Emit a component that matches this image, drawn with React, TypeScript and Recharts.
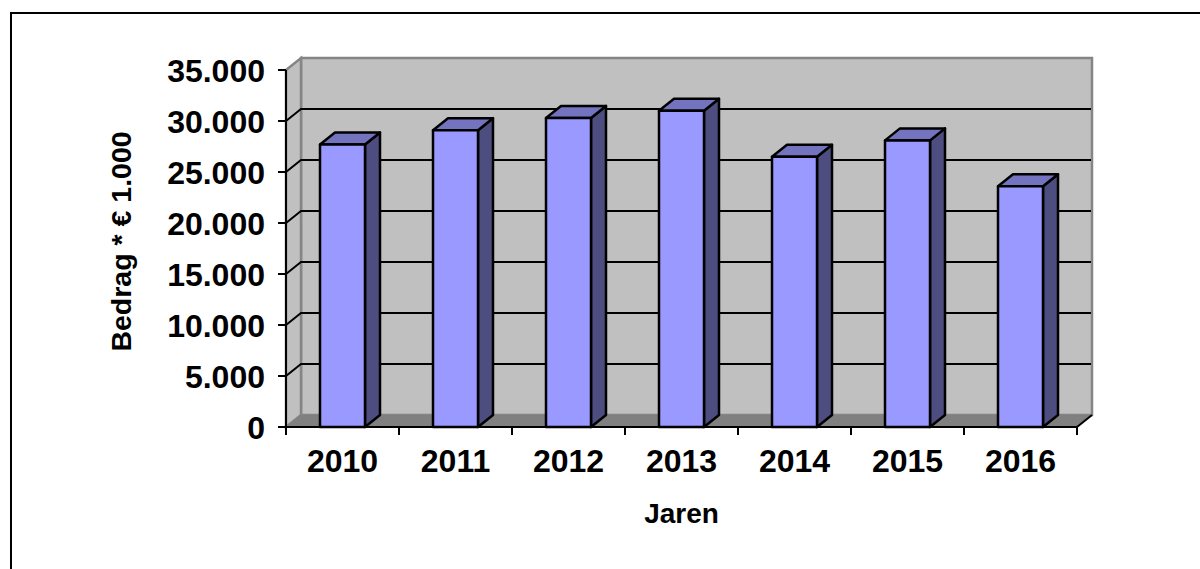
import React from 'react';
import { BarChart, Bar, XAxis, YAxis, CartesianGrid } from 'recharts';

const years = ['2010', '2011', '2012', '2013', '2014', '2015', '2016'];
const amounts = [27700, 29100, 30300, 31000, 26500, 28100, 23600];
const yTicks = [0, 5000, 10000, 15000, 20000, 25000, 30000, 35000];

const rows = years.map((year, i) => ({ year, amount: amounts[i] }));

// Plot box of the chart, and the depth of the fake 3D look
const W = 1200;
const H = 569;
const LEFT = 286;
const RIGHT = 1077;
const TOP = 70;
const BOTTOM = 427;
const DX = 15;
const DY = 12;
const BAND = (RIGHT - LEFT) / years.length;

const FONT = '"Liberation Sans", Arial, sans-serif';

const dots = (v: number) => String(v).replace(/\B(?=(\d{3})+$)/g, '.');

const pts = (list: number[][]) => list.map((p) => p.join(',')).join(' ');

// Back wall, side wall and floor, in their own svg under the chart
const Walls = () => (
  <svg width={W} height={H} style={{ position: 'absolute', left: 0, top: 0 }}>
    <polygon
      points={pts([[LEFT + DX, TOP - DY], [RIGHT + DX, TOP - DY], [RIGHT + DX, BOTTOM - DY], [LEFT + DX, BOTTOM - DY]])}
      fill="#c0c0c0"
      stroke="#858585"
      strokeWidth={2.5}
    />
    <polygon
      points={pts([[LEFT, TOP], [LEFT + DX, TOP - DY], [LEFT + DX, BOTTOM - DY], [LEFT, BOTTOM]])}
      fill="#c0c0c0"
      stroke="#858585"
      strokeWidth={2.5}
    />
    <polygon
      points={pts([[LEFT, BOTTOM], [LEFT + DX, BOTTOM - DY], [RIGHT + DX, BOTTOM - DY], [RIGHT, BOTTOM]])}
      fill="#808080"
    />
    <line x1={RIGHT} y1={BOTTOM} x2={RIGHT + DX} y2={BOTTOM - DY} stroke="#000" strokeWidth={2} />
  </svg>
);

// Gridline that runs up the side wall, then across the back wall
const GridLine = (props: any) => {
  const { x1, x2, y1, key } = props;
  if (y1 <= TOP + 1 || y1 >= BOTTOM - 1) return <g key={key} />;
  return (
    <polyline
      key={key}
      points={pts([[x1, y1], [x1 + DX, y1 - DY], [x2 + DX - 1, y1 - DY]])}
      fill="none"
      stroke="#000"
      strokeWidth={2}
    />
  );
};

// Column with a front, top and side face
const Column = (props: any) => {
  const { x, y, width, height } = props;
  const r = x + width;
  const b = y + height;
  return (
    <g stroke="#000" strokeWidth={2.5} strokeLinejoin="round">
      <polygon points={pts([[r, y], [r + DX, y - DY], [r + DX, b - DY], [r, b]])} fill="#4d4d80" />
      <polygon points={pts([[x, y], [x + DX, y - DY], [r + DX, y - DY], [r, y]])} fill="#7373bf" />
      <rect x={x} y={y} width={width} height={height} fill="#9999ff" />
    </g>
  );
};

// Year label in the middle of the band, tick marks on the band edges
const YearTick = (props: any) => {
  const { x, payload, index } = props;
  const left = x - BAND / 2;
  const right = x + BAND / 2;
  return (
    <g>
      <line x1={left} y1={BOTTOM} x2={left} y2={BOTTOM + 8} stroke="#000" strokeWidth={2} />
      {index === years.length - 1 && (
        <line x1={right} y1={BOTTOM} x2={right} y2={BOTTOM + 8} stroke="#000" strokeWidth={2} />
      )}
      <text x={x} y={BOTTOM + 45} textAnchor="middle" fontFamily={FONT} fontWeight="bold" fontSize={32} fill="#000">
        {payload.value}
      </text>
    </g>
  );
};

export default function App() {
  return (
    <div style={{ position: 'absolute', left: 0, top: 0, width: W, height: H, background: '#fff', overflow: 'hidden' }}>
      <div
        style={{
          position: 'absolute',
          left: 10,
          top: 12,
          width: W,
          height: H,
          borderLeft: '2px solid #000',
          borderTop: '2px solid #000',
        }}
      />
      <Walls />
      <BarChart
        width={W}
        height={H}
        data={rows}
        margin={{ top: TOP, right: W - RIGHT, bottom: 0, left: 0 }}
        style={{ position: 'absolute', left: 0, top: 0 }}
      >
        <CartesianGrid vertical={false} horizontal={GridLine} />
        <XAxis
          dataKey="year"
          height={H - BOTTOM}
          interval={0}
          axisLine={{ stroke: '#000', strokeWidth: 2 }}
          tickLine={false}
          tick={YearTick}
          label={{
            value: 'Jaren',
            position: 'insideBottom',
            offset: 46,
            style: { fontFamily: FONT, fontWeight: 'bold', fontSize: 28, fill: '#000' },
          }}
        />
        <YAxis
          width={LEFT}
          domain={[0, 35000]}
          ticks={yTicks}
          interval={0}
          tickFormatter={dots}
          axisLine={{ stroke: '#000', strokeWidth: 2 }}
          tickLine={{ stroke: '#000', strokeWidth: 2 }}
          tickSize={8}
          tickMargin={13}
          tick={{ fontFamily: FONT, fontWeight: 'bold', fontSize: 32, fill: '#000', dy: 1 }}
          label={{
            value: 'Bedrag * € 1.000',
            angle: -90,
            position: 'insideLeft',
            offset: 0,
            dx: 121,
            dy: -7,
            style: { textAnchor: 'middle', fontFamily: FONT, fontWeight: 'bold', fontSize: 28.5, fill: '#000' },
          }}
        />
        <Bar dataKey="amount" barSize={45} shape={Column} isAnimationActive={false} />
      </BarChart>
    </div>
  );
}
